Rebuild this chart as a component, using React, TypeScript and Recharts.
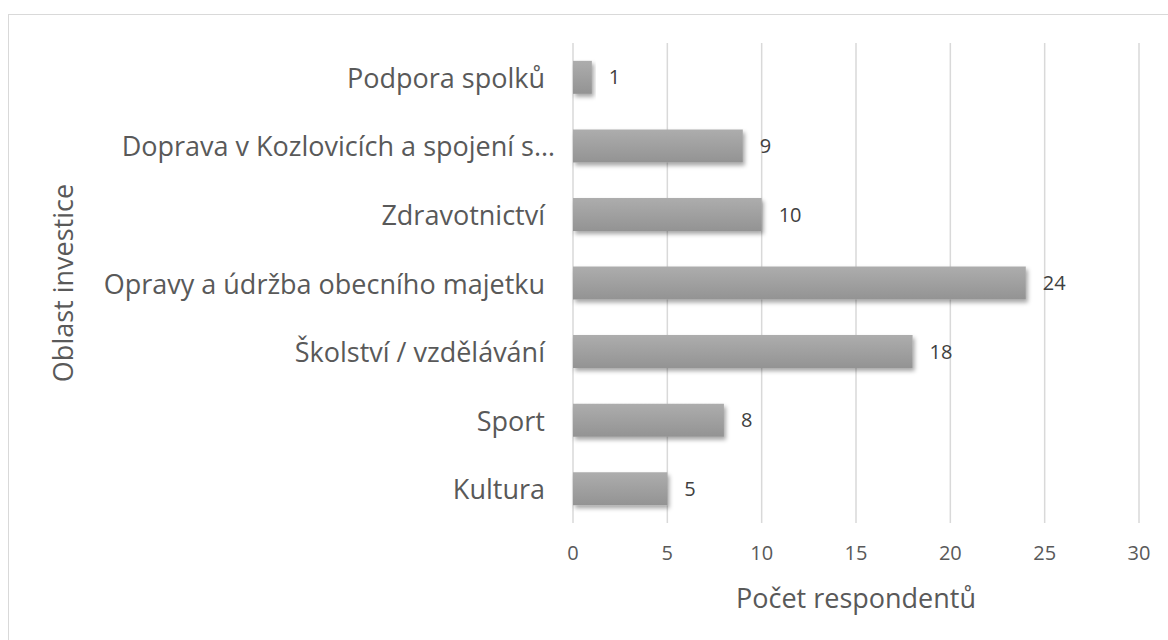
import { Bar, BarChart, CartesianGrid, LabelList, XAxis, YAxis } from "recharts";

const categories = [
  "Podpora spolků",
  "Doprava v Kozlovicích a spojení s…",
  "Zdravotnictví",
  "Opravy a údržba obecního majetku",
  "Školství / vzdělávání",
  "Sport",
  "Kultura",
];

const respondents = [1, 9, 10, 24, 18, 8, 5];

const xTicks = [0, 5, 10, 15, 20, 25, 30];

const data = categories.map((name, i) => ({ name, value: respondents[i] }));

const font = "'Open Sans', 'DejaVu Sans', sans-serif";
const textGray = "#595959";

function YTitle(props: any) {
  const { viewBox } = props;
  const cx = viewBox.x + 62;
  const cy = viewBox.y + viewBox.height / 2;
  return (
    <text
      x={cx}
      y={cy}
      transform={`rotate(-90 ${cx} ${cy})`}
      textAnchor="middle"
      dominantBaseline="central"
      fill={textGray}
      fontSize={27}
      fontFamily={font}
    >
      Oblast investice
    </text>
  );
}

// Excel pushes the truncated label a little closer to the axis
function CategoryTick(props: any) {
  const { x, y, payload } = props;
  const truncated = String(payload.value).endsWith("…");
  return (
    <text
      x={x + (truncated ? 10 : 0)}
      y={y}
      textAnchor="end"
      dominantBaseline="central"
      fill={textGray}
      fontSize={27}
      fontFamily={font}
    >
      {payload.value}
    </text>
  );
}

export default function App() {
  return (
    <div
      style={{
        position: "fixed",
        left: 0,
        top: 0,
        width: 1168,
        height: 640,
        overflow: "hidden",
        background: "#fff",
        fontFamily: font,
      }}
    >
      <div
        style={{
          position: "absolute",
          left: 8,
          top: 14,
          width: 1200,
          height: 700,
          border: "1px solid #d9d9d9",
        }}
      />
      <div style={{ position: "absolute", left: 0, top: 0 }}>
        <BarChart
          width={1168}
          height={640}
          data={data}
          layout="vertical"
          barCategoryGap="26%"
          margin={{ top: 43, right: 29, bottom: 27, left: 0 }}
        >
          <defs>
            <linearGradient id="barFill" x1="0" y1="0" x2="0" y2="1">
              <stop offset="0%" stopColor="#adadad" />
              <stop offset="100%" stopColor="#939393" />
            </linearGradient>
            <filter id="barShadow" x="-10%" y="-30%" width="130%" height="180%">
              <feDropShadow dx="2" dy="3" stdDeviation="2" floodColor="#000" floodOpacity="0.35" />
            </filter>
          </defs>
          <CartesianGrid horizontal={false} stroke="#d9d9d9" strokeWidth={1.5} />
          <XAxis
            type="number"
            domain={[0, 30]}
            ticks={xTicks}
            axisLine={false}
            tickLine={false}
            tickMargin={17}
            height={90}
            tick={{ fill: textGray, fontSize: 20, fontFamily: font }}
            label={{
              value: "Počet respondentů",
              position: "insideBottom",
              offset: 5,
              fill: textGray,
              fontSize: 27,
              fontFamily: font,
            }}
          />
          <YAxis
            type="category"
            dataKey="name"
            width={573}
            axisLine={false}
            tickLine={false}
            tickMargin={22}
            interval={0}
            tick={<CategoryTick />}
            label={{ content: <YTitle /> }}
          />
          <Bar
            dataKey="value"
            fill="url(#barFill)"
            filter="url(#barShadow)"
            isAnimationActive={false}
          >
            <LabelList
              dataKey="value"
              position="right"
              offset={17}
              fill="#404040"
              fontSize={20}
              fontFamily={font}
            />
          </Bar>
        </BarChart>
      </div>
    </div>
  );
}
